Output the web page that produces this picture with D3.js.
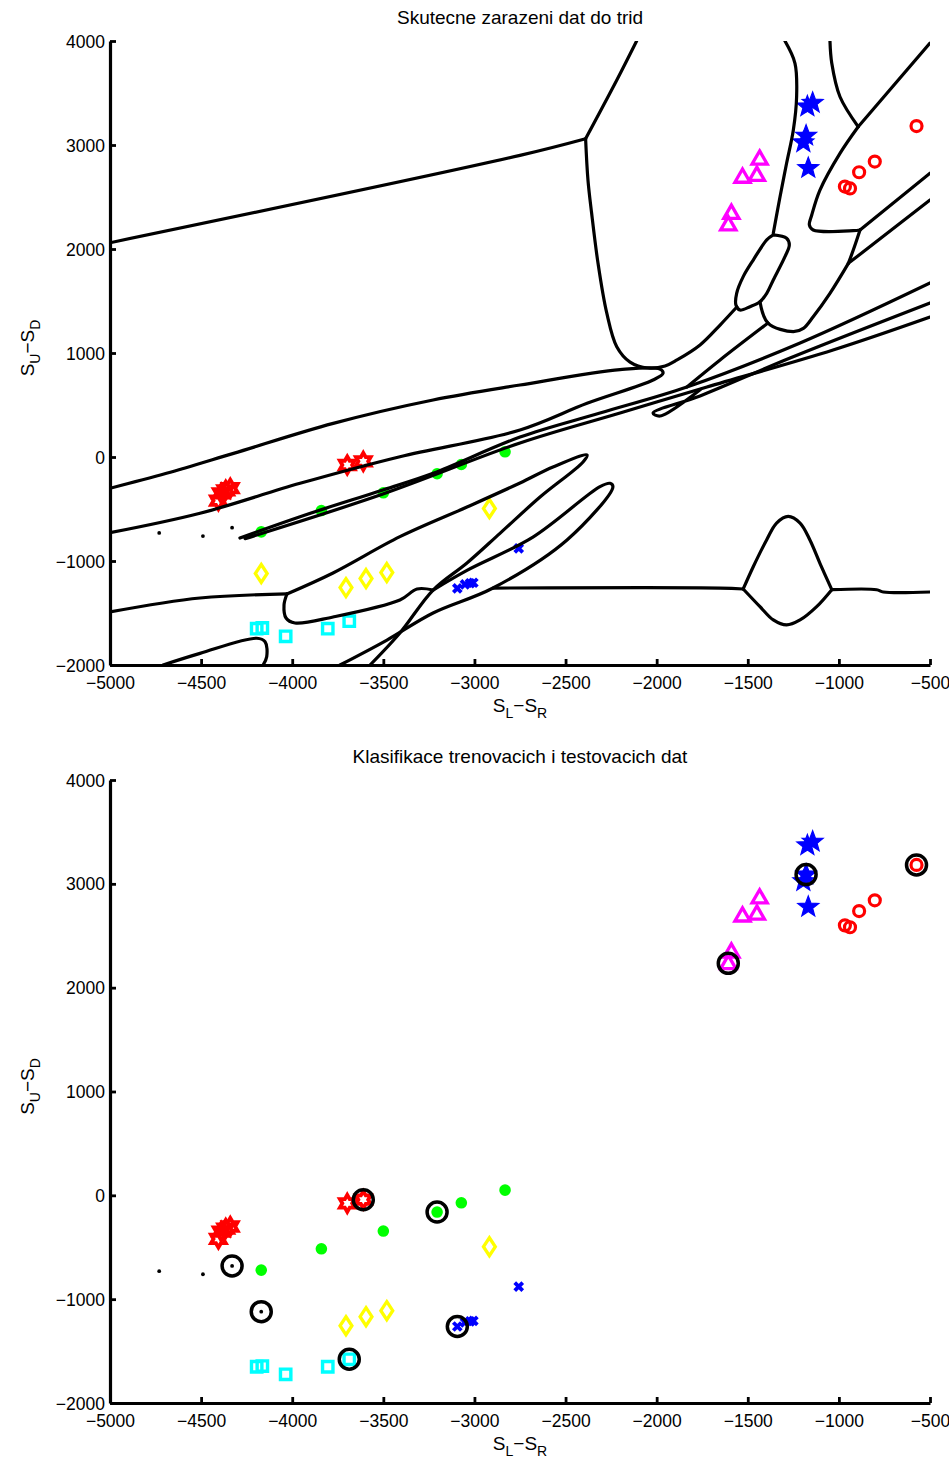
<!DOCTYPE html>
<html>
<head>
<meta charset="utf-8">
<script src="https://cdn.jsdelivr.net/npm/d3@7"></script>
<style>
  body { margin: 0; background: #fff; }
  svg text { font-family: 'Liberation Sans', Arial, Helvetica, sans-serif; fill: #000; }
</style>
</head>
<body>
<script>
// ---- data ----
// x = S_L - S_R, y = S_U - S_D
const sumLR = [
  -4730, -4490, -4330,
  -4405, -4390, -4365, -4340, -3698, -3610,
  -4170, -3840, -3500, -3205, -3072, -2832,
  -4170, -3705, -3595, -3481, -2918,
  -4195, -4164, -4036, -3805, -3687,
  -3094, -3052, -3024, -3006, -2757,
  -1435, -1529, -1450, -1590, -1607,
  -1173, -1144, -1180, -1195, -1168,
  -967, -939, -889, -803, -574
];
const sumUD = [
  -730, -760, -680,
  -420, -350, -320, -300, -77, -42,
  -720, -515, -344, -161, -72, 50,
  -1120, -1256, -1169, -1111, -495,
  -1651, -1644, -1724, -1651, -1579,
  -1263, -1224, -1214, -1209, -879,
  2866, 2692, 2710, 2345, 2234,
  3370, 3405, 3089, 3025, 2778,
  2600, 2582, 2738, 2841, 3182
];
// true class of each point (1..9)
const trueClass = [
  1, 1, 1,
  2, 2, 2, 2, 2, 2,
  3, 3, 3, 3, 3, 3,
  4, 4, 4, 4, 4,
  5, 5, 5, 5, 5,
  6, 6, 6, 6, 6,
  7, 7, 7, 7, 7,
  8, 8, 8, 8, 8,
  9, 9, 9, 9, 9
];
// class given by the classifier
const predClass = [
  1, 1, 1,
  2, 2, 2, 2, 2, 2,
  3, 3, 3, 3, 3, 3,
  1, 4, 4, 4, 4,
  5, 5, 5, 5, 5,
  6, 6, 6, 6, 6,
  7, 7, 7, 7, 7,
  8, 8, 8, 8, 8,
  9, 9, 9, 9, 9
];
// 1 = test sample (circled in lower plot)
const isTest = [
  0, 0, 1,
  0, 0, 0, 0, 0, 1,
  0, 0, 0, 1, 0, 0,
  1, 0, 0, 0, 0,
  0, 0, 0, 0, 1,
  1, 0, 0, 0, 0,
  0, 0, 0, 0, 1,
  0, 0, 1, 0, 0,
  0, 0, 0, 0, 1
];

const xTicks = [-5000, -4500, -4000, -3500, -3000, -2500, -2000, -1500, -1000, -500];
const yTicks = [-2000, -1000, 0, 1000, 2000, 3000, 4000];

const titles = ['Skutecne zarazeni dat do trid', 'Klasifikace trenovacich i testovacich dat'];

// decision boundaries (data coords)
const boundaryCurves = [
  [[-5000, 2060], [-2750, 2900], [-2390, 3060]],
  [[-2390, 3060], [-2220, 3620], [-2110, 4000]],
  [[-2390, 3060], [-2377, 2663], [-2357, 2346], [-2322, 1865], [-2274, 1385], [-2219, 1061], [-2146, 913],
   [-2048, 856], [-1954, 875], [-1888, 933], [-1762, 1077], [-1652, 1269], [-1560, 1442]],
  [[-1360, 2135], [-1287, 2103], [-1272, 2038], [-1296, 1926], [-1360, 1702], [-1396, 1574], [-1433, 1493],
   [-1488, 1445], [-1543, 1413], [-1565, 1462], [-1561, 1574], [-1525, 1734], [-1470, 1894], [-1396, 2087], [-1360, 2135]],
  [[-1296, 4000], [-1241, 3786], [-1232, 3464], [-1250, 3144], [-1287, 2824], [-1323, 2503], [-1360, 2151]],
  [[-1433, 1493], [-1389, 1288], [-1250, 1205], [-1195, 1237], [-1141, 1349], [-1049, 1574], [-948, 1862]],
  [[-948, 1862], [-921, 1990], [-884, 2183]],
  [[-884, 2183], [-921, 2176], [-1141, 2183], [-1162, 2231], [-1149, 2327], [-1104, 2567],
   [-994, 2920], [-894, 3176]],
  [[-894, 3176], [-994, 3464], [-1039, 3786], [-1049, 4000]],
  [[-948, 1862], [-500, 2471]],
  [[-884, 2183], [-500, 2728]],
  [[-894, 3176], [-500, 3980]],
  [[-1389, 1288], [-1652, 933], [-1834, 673]],
  [[-4287, -779], [-3957, -574], [-3502, -317], [-3227, -157], [-2750, 192], [-2311, 423], [-1834, 673], [-1213, 1096], [-500, 1673]],
  [[-4259, -785], [-3502, -356], [-2750, 135], [-2201, 423], [-1724, 673], [-1032, 1029], [-500, 1346]],
  [[-1760, 650], [-1982, 394], [-2020, 423], [-1762, 587], [-1268, 952], [-500, 1481]],
  [[-5000, -301], [-4690, -157], [-4322, 35], [-3775, 323], [-3227, 548], [-2750, 692], [-2201, 840], [-1982, 845],
   [-1965, 805], [-2020, 740], [-2382, 516], [-2750, 260], [-3409, 3], [-3957, -253], [-4506, -541], [-5000, -728]],
  [[-5000, -1490], [-4506, -1356], [-4029, -1317]],
  [[-4029, -1317], [-3776, -1115], [-3409, -766], [-3041, -481], [-2750, -250],
   [-2569, -96], [-2382, 19], [-2404, -48], [-2640, -385], [-2860, -734], [-3041, -1019], [-3227, -1279], [-3409, -1692], [-3573, -2000]],
  [[-4029, -1317], [-4045, -1423], [-4034, -1548], [-3985, -1596], [-3776, -1538], [-3409, -1375], [-3315, -1269], [-3227, -1279]],
  [[-2898, -1260], [-1652, -1260], [-1525, -1269]],
  [[-1525, -1269], [-1470, -1055], [-1396, -795], [-1342, -635], [-1278, -571],
   [-1213, -635], [-1159, -798], [-1104, -1022], [-1039, -1276]],
  [[-1039, -1276], [-793, -1276], [-756, -1298], [-500, -1298]],
  [[-1525, -1269], [-1433, -1439], [-1360, -1567], [-1287, -1615], [-1213, -1567], [-1122, -1439], [-1039, -1276]],
  [[-3738, -2000], [-3480, -1760], [-3227, -1500], [-2898, -1260], [-2492, -798], [-2240, -285], [-2256, -253],
   [-2311, -285], [-2679, -770], [-3041, -1090], [-3227, -1279]],
  [[-4709, -2000], [-4506, -1888], [-4195, -1743], [-4149, -1776], [-4140, -1920], [-4160, -2000]]
];

// ---- marker shapes (size = radius in px) ----
function starType(points, ratio) {
  return {
    draw(ctx, r) {
      for (let i = 0; i < points * 2; i++) {
        const a = -Math.PI / 2 + i * Math.PI / points;
        const rr = i % 2 ? r * ratio : r;
        const px = rr * Math.cos(a), py = rr * Math.sin(a);
        i ? ctx.lineTo(px, py) : ctx.moveTo(px, py);
      }
      ctx.closePath();
    }
  };
}
const shapes = {
  circle: { draw(ctx, r) { ctx.moveTo(r, 0); ctx.arc(0, 0, r, 0, 2 * Math.PI); } },
  hexagram: starType(6, 0.577),
  pentagram: starType(5, 0.42),
  diamond: { draw(ctx, r) { ctx.moveTo(0, -r); ctx.lineTo(r * 0.66, 0); ctx.lineTo(0, r); ctx.lineTo(-r * 0.66, 0); ctx.closePath(); } },
  square: { draw(ctx, r) { ctx.rect(-r, -r, 2 * r, 2 * r); } },
  triangle: { draw(ctx, r) { ctx.moveTo(0, -r); ctx.lineTo(r * 0.95, r * 0.65); ctx.lineTo(-r * 0.95, r * 0.65); ctx.closePath(); } },
  cross: { draw(ctx, r) { ctx.moveTo(-r, -r); ctx.lineTo(r, r); ctx.moveTo(r, -r); ctx.lineTo(-r, r); } }
};
const markerStyle = {
  1: { shape: 'circle', r: 1.9, fill: '#000', stroke: 'none', sw: 0 },
  2: { shape: 'hexagram', r: 8.5, fill: 'none', stroke: '#ff0000', sw: 3.8 },
  3: { shape: 'circle', r: 5.8, fill: '#00ff00', stroke: 'none', sw: 0 },
  4: { shape: 'diamond', r: 9, fill: 'none', stroke: '#ffff00', sw: 3.3 },
  5: { shape: 'square', r: 5.2, fill: 'none', stroke: '#00ffff', sw: 3.4 },
  6: { shape: 'cross', r: 4, fill: 'none', stroke: '#0000ff', sw: 3.8 },
  7: { shape: 'triangle', r: 8, fill: 'none', stroke: '#ff00ff', sw: 3.3 },
  8: { shape: 'pentagram', r: 11, fill: '#0000ff', stroke: '#0000ff', sw: 1.2 },
  9: { shape: 'circle', r: 5.5, fill: 'none', stroke: '#ff0000', sw: 3.2 }
};

const W = 949, H = 1461;
const svg = d3.select('body').append('svg').attr('width', W).attr('height', H);

const x = d3.scaleLinear().domain([-5000, -500]).range([110, 930]);

const points = sumLR.map((v, i) => ({ x: v, y: sumUD[i], t: trueClass[i], p: predClass[i], test: isTest[i] }));

function drawPanel(top, bottom, title, idx) {
  const y = d3.scaleLinear().domain([-2000, 4000]).range([bottom, top]);
  const g = svg.append('g');

  g.append('clipPath').attr('id', 'clip' + idx)
    .append('rect').attr('x', 110).attr('y', top).attr('width', 820).attr('height', bottom - top);

  const plot = g.append('g').attr('clip-path', `url(#clip${idx})`);

  const cls = d => idx === 0 ? d.t : d.p;
  plot.selectAll('path.mk')
    .data(points)
    .join('path')
    .attr('class', 'mk')
    .attr('transform', d => `translate(${x(d.x)},${y(d.y)})`)
    .attr('d', d => d3.symbol().type(shapes[markerStyle[cls(d)].shape]).size(markerStyle[cls(d)].r)())
    .attr('fill', d => markerStyle[cls(d)].fill)
    .attr('stroke', d => markerStyle[cls(d)].stroke)
    .attr('stroke-width', d => markerStyle[cls(d)].sw)
    .attr('stroke-linejoin', 'miter');

  if (idx === 0) {
    const line = d3.line().x(d => x(d[0])).y(d => y(d[1])).curve(d3.curveCatmullRom.alpha(0.5));
    plot.selectAll('path.bd')
      .data(boundaryCurves)
      .join('path')
      .attr('class', 'bd')
      .attr('d', line)
      .attr('fill', 'none')
      .attr('stroke', '#000')
      .attr('stroke-width', 3.2)
      .attr('stroke-linejoin', 'round')
      .attr('stroke-linecap', 'round');
  } else {
    plot.selectAll('circle.test')
      .data(points.filter(d => d.test))
      .join('circle')
      .attr('class', 'test')
      .attr('cx', d => x(d.x))
      .attr('cy', d => y(d.y))
      .attr('r', 10)
      .attr('fill', 'none')
      .attr('stroke', '#000')
      .attr('stroke-width', 3.5);
  }

  // axes, ticks pointing inwards
  const xAxis = g.append('g')
    .attr('transform', `translate(0,${bottom})`)
    .call(d3.axisBottom(x).tickValues(xTicks).tickFormat(d3.format('d')).tickSizeInner(-6).tickSizeOuter(0).tickPadding(10));
  const yAxis = g.append('g')
    .attr('transform', 'translate(110,0)')
    .call(d3.axisLeft(y).tickValues(yTicks).tickFormat(d3.format('d')).tickSizeInner(-6).tickSizeOuter(0).tickPadding(5));

  [xAxis, yAxis].forEach(a => {
    a.select('.domain').attr('stroke-width', 3.2);
    a.selectAll('.tick line').attr('stroke-width', 2.8);
    a.selectAll('.tick text').attr('font-size', 17.5).attr('font-family', null);
  });
  xAxis.selectAll('.tick text').attr('dy', '0.8em');
  yAxis.selectAll('.tick text').attr('dy', '0.35em');

  // title
  g.append('text')
    .attr('x', 520).attr('y', top - 17)
    .attr('text-anchor', 'middle')
    .attr('font-size', 19)
    .text(title);

  // x label  S_L - S_R
  const xl = g.append('text')
    .attr('x', 520).attr('y', bottom + 47)
    .attr('text-anchor', 'middle')
    .attr('font-size', 19);
  xl.append('tspan').text('S');
  xl.append('tspan').attr('dy', 6).attr('font-size', 14).text('L');
  xl.append('tspan').attr('dy', -6).text('\u2212S');
  xl.append('tspan').attr('dy', 6).attr('font-size', 14).text('R');

  // y label  S_U - S_D
  const cy = (top + bottom) / 2 - 5;
  const yl = g.append('text')
    .attr('transform', `translate(34,${cy}) rotate(-90)`)
    .attr('text-anchor', 'middle')
    .attr('font-size', 19);
  yl.append('tspan').text('S');
  yl.append('tspan').attr('dy', 6).attr('font-size', 14).text('U');
  yl.append('tspan').attr('dy', -6).text('\u2212S');
  yl.append('tspan').attr('dy', 6).attr('font-size', 14).text('D');
}

drawPanel(41, 665, titles[0], 0);
drawPanel(780, 1403, titles[1], 1);
</script>
</body>
</html>
